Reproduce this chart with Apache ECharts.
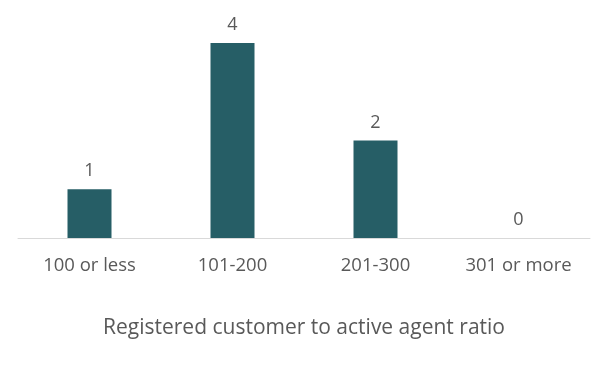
<!DOCTYPE html>
<html><head><meta charset="utf-8">
<script src="https://cdn.jsdelivr.net/npm/echarts@6/dist/echarts.min.js"></script>
<style>html,body{margin:0;padding:0;background:#fff}#c{width:608px;height:365px}</style>
</head><body><div id="c"></div>
<script>
const categories = ["100 or less", "101-200", "201-300", "301 or more"];
const values = [1, 4, 2, 0];
const axisTitle = "Registered customer to active agent ratio";

const chart = echarts.init(document.getElementById('c'), null, {renderer: 'canvas'});
chart.setOption({
  animation: false,
  grid: {left: 18, right: 18, top: 43, bottom: 127},
  xAxis: {
    type: 'category', data: categories,
    axisLine: {lineStyle: {color: '#d9d9d9', width: 1}},
    axisTick: {show: false},
    axisLabel: {color: '#595959', fontSize: 18.5, fontFamily: 'Open Sans', margin: 18},
    name: axisTitle, nameLocation: 'middle', nameGap: 80,
    nameTextStyle: {color: '#595959', fontSize: 21, fontFamily: 'Open Sans'}
  },
  yAxis: {type: 'value', min: 0, max: 4, show: false, splitLine: {show: false}},
  series: [{
    type: 'bar', data: values, barWidth: 44,
    itemStyle: {color: '#265E66'},
    label: {show: true, position: 'top', distance: 9, color: '#595959', fontSize: 18, fontFamily: 'Open Sans'}
  }]
});
</script></body></html>
